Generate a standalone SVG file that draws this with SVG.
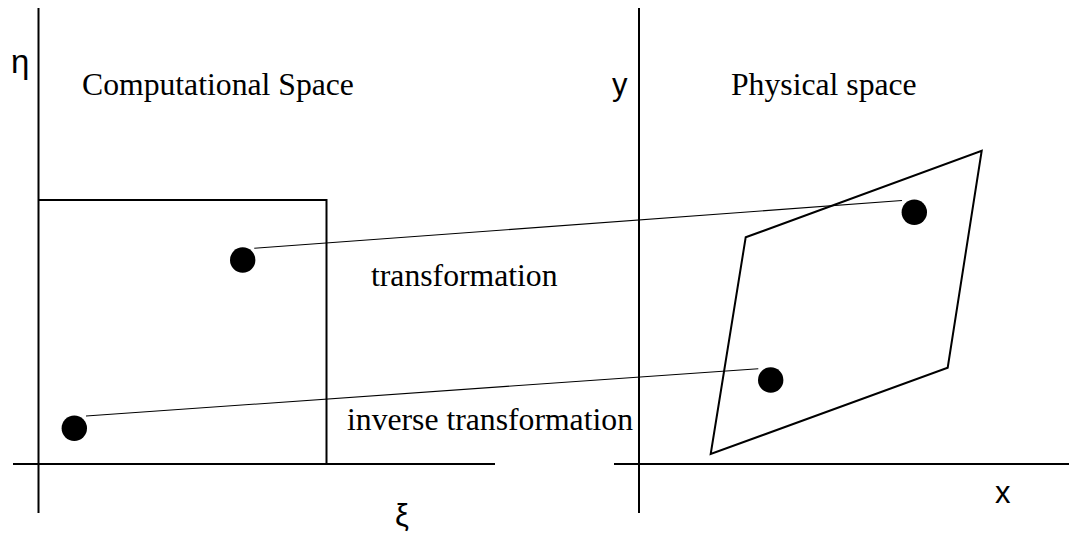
<svg xmlns="http://www.w3.org/2000/svg" width="1069" height="539" viewBox="0 0 1069 539">
<style>
.ax{stroke:#000;stroke-width:2;fill:none}
.conn{stroke:#000;stroke-width:1.1;fill:none}
.dot{fill:#000}
.serif{font-family:"Liberation Serif","Times New Roman",serif;font-size:31.7px;fill:#000}
.sans{font-family:"Liberation Sans",Arial,sans-serif;fill:#000}
</style>
<rect width="1069" height="539" fill="#fff"/>
<g id="computational-axes">
<line class="ax" x1="38.5" y1="8" x2="38.5" y2="513"/>
<line class="ax" x1="13" y1="464" x2="495" y2="464"/>
<text class="sans" x="11" y="73" font-size="33">η</text>
<text class="sans" x="395" y="526" font-size="31">ξ</text>
</g>
<g id="computational-space">
<polyline class="ax" points="38.5,200 326.5,200 326.5,464"/>
<text class="serif" x="82" y="95">Computational Space</text>
</g>
<g id="physical-axes">
<line class="ax" x1="639" y1="8" x2="639" y2="513"/>
<line class="ax" x1="614" y1="464" x2="1069" y2="464"/>
<text class="sans" x="612" y="95" font-size="31">y</text>
<text class="sans" x="995" y="503" font-size="31">x</text>
</g>
<g id="physical-space">
<polygon class="ax" points="745.7,237.3 981.7,150.7 947.7,367.7 710.7,454"/>
<text class="serif" x="731" y="95">Physical space</text>
</g>
<g id="point-a"><circle class="dot" cx="242.7" cy="260" r="12.7"/></g>
<g id="point-b"><circle class="dot" cx="74.3" cy="428.3" r="12.7"/></g>
<g id="point-a-phys"><circle class="dot" cx="914.3" cy="212.3" r="12.7"/></g>
<g id="point-b-phys"><circle class="dot" cx="770.7" cy="380" r="12.7"/></g>
<g id="connectors">
<line class="conn" x1="254.3" y1="248.3" x2="902" y2="200.5"/>
<line class="conn" x1="86" y1="416" x2="758.3" y2="368.7"/>
</g>
<g id="labels">
<text class="serif" x="371" y="286">transformation</text>
<text class="serif" x="347" y="430">inverse transformation</text>
</g>
</svg>
